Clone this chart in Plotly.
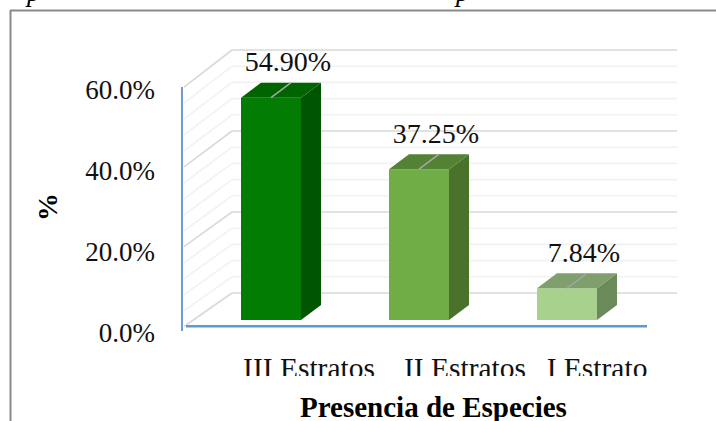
import plotly.graph_objects as go

# === Data ===
categories = ['III Estratos', 'II Estratos', 'I Estrato']
values = [54.90, 37.25, 7.84]
y_ticks = [0, 20, 40, 60]
y_tick_labels = ['0.0%', '20.0%', '40.0%', '60.0%']
grid_values = [0, 4, 8, 12, 16, 20, 24, 28, 32, 36, 40, 44, 48, 52, 56, 60]

front_colors = ['#037c03', '#70ad47', '#a9d18e']
side_colors = ['#005500', '#4a722b', '#6b8a5a']
top_colors = ['#006400', '#548235', '#7f9f6d']

# === Layout settings (pixels) ===
W, H = 716, 421
left, right, top, bottom = 160, 700, 30, 345
bar_spacing = 148
bar_center0 = 271
bar_width = 60
y_scale = 4.05      # px per percent
base_px = 320
label_centers = [309, 465, 597]


def ux(p):
    return (p - bar_center0) / bar_spacing


def uy(p):
    return (base_px - p) / y_scale


def paper_x(p):
    return (p - left) / (right - left)


def paper_y(p):
    return (bottom - p) / (bottom - top)


bar_dx = 20 / bar_spacing
bar_dy = 15 / y_scale
half = bar_width / bar_spacing / 2
positions = list(range(len(values)))

fig = go.Figure()

# Front faces
fig.add_trace(go.Bar(x=positions, y=values, width=bar_width / bar_spacing,
                     marker=dict(color=front_colors, line=dict(width=0)),
                     showlegend=False, hoverinfo='skip'))

# Side and top faces
for i, v in enumerate(values):
    r = i + half
    l = i - half
    fig.add_trace(go.Scatter(
        x=[r, r + bar_dx, r + bar_dx, r, r], y=[0, bar_dy, v + bar_dy, v, 0],
        mode='lines', fill='toself', fillcolor=side_colors[i],
        line=dict(width=0), showlegend=False, hoverinfo='skip'))
    fig.add_trace(go.Scatter(
        x=[l, l + bar_dx, r + bar_dx, r, l], y=[v, v + bar_dy, v + bar_dy, v, v],
        mode='lines', fill='toself', fillcolor=top_colors[i],
        line=dict(width=0), showlegend=False, hoverinfo='skip'))
    # Leader line
    fig.add_trace(go.Scatter(
        x=[i, i + bar_dx], y=[v, v + bar_dy], mode='lines',
        line=dict(color='#a6a6a6', width=1.5), showlegend=False, hoverinfo='skip'))

# Data labels
fig.add_trace(go.Scatter(
    x=[i + 17 / bar_spacing for i in positions],
    y=[v + 33.5 / y_scale for v in values],
    mode='text', text=[f'{v:.2f}%' for v in values],
    textposition='middle center',
    textfont=dict(family='Liberation Serif', size=28, color='#111111'),
    showlegend=False, hoverinfo='skip'))

# Back wall and side wall grid (below the bars)
shapes = []
wall_dy = 27 / y_scale
for g in grid_values:
    major = g % 20 == 0
    col = '#d9d9d9' if major else '#f2f2f2'
    w = 1.6
    back = g + wall_dy
    front_px = 326.5 - g * 3.99
    shapes.append(dict(type='line', xref='x', yref='y', layer='below',
                       x0=ux(232), x1=ux(677), y0=back, y1=back,
                       line=dict(color=col, width=w)))
    shapes.append(dict(type='line', xref='x', yref='y', layer='below',
                       x0=ux(184), x1=ux(232), y0=uy(front_px), y1=back,
                       line=dict(color=col, width=w)))

# Blue axes
shapes.append(dict(type='line', xref='x', yref='y', x0=ux(182), x1=ux(182),
                   y0=uy(331), y1=uy(87), line=dict(color='#6f9bd8', width=2)))
shapes.append(dict(type='line', xref='x', yref='y', x0=ux(186), x1=ux(647),
                   y0=uy(326.3), y1=uy(326.3), line=dict(color='#5b9bd5', width=2.4)))

# Cover that cuts the category labels off
shapes.append(dict(type='rect', xref='paper', yref='paper', layer='above',
                   x0=paper_x(225), x1=paper_x(680), y0=paper_y(376), y1=paper_y(421),
                   fillcolor='white', line=dict(width=0)))

# Chart frame (left and top only, rest is outside the crop)
shapes.append(dict(type='line', xref='paper', yref='paper', x0=paper_x(10), x1=paper_x(716),
                   y0=paper_y(10.5), y1=paper_y(10.5), line=dict(color='#8a8a8a', width=2)))
shapes.append(dict(type='line', xref='paper', yref='paper', x0=paper_x(10.5), x1=paper_x(10.5),
                   y0=paper_y(10), y1=paper_y(421), line=dict(color='#8a8a8a', width=2)))

annotations = [
    dict(text='<b>Presencia de Especies</b>', xref='paper', yref='paper',
         x=paper_x(433), y=paper_y(407), showarrow=False, xanchor='center', yanchor='middle',
         font=dict(family='Liberation Serif', size=29, color='#000000')),
    dict(text='<b>%</b>', xref='paper', yref='paper', textangle=-90,
         x=paper_x(47.5), y=paper_y(207.5), showarrow=False, xanchor='center', yanchor='middle',
         font=dict(family='Liberation Serif', size=28, color='#000000')),
    dict(text='<i>p</i>', xref='paper', yref='paper',
         x=paper_x(33), y=paper_y(-8), showarrow=False, xanchor='center', yanchor='middle',
         font=dict(family='Liberation Serif', size=27, color='#000000')),
    dict(text='<i>p</i>', xref='paper', yref='paper',
         x=paper_x(462), y=paper_y(-8), showarrow=False, xanchor='center', yanchor='middle',
         font=dict(family='Liberation Serif', size=27, color='#000000')),
]

fig.update_layout(
    width=W, height=H, autosize=False,
    margin=dict(l=left, r=W - right, t=top, b=H - bottom, pad=0),
    paper_bgcolor='white', plot_bgcolor='white',
    showlegend=False, shapes=shapes, annotations=annotations,
    xaxis=dict(range=[ux(left), ux(right)], tickmode='array',
               tickvals=[ux(p) for p in label_centers], ticktext=categories,
               showgrid=False, zeroline=False, showline=False, ticks='',
               ticklabelstandoff=2,
               tickfont=dict(family='Liberation Serif', size=29.5, color='#111111')),
    yaxis=dict(range=[uy(bottom), uy(top)], tickmode='array',
               tickvals=y_ticks, ticktext=y_tick_labels,
               showgrid=False, zeroline=False, showline=False, ticks='',
               ticklabelstandoff=4, ticklabelshift=13,
               tickfont=dict(family='Liberation Serif', size=27, color='#111111')),
)

# the default page margin would shift the chart by 8px
fig.write_html("out.html", post_script="document.body.style.margin='0';",
               config=dict(displayModeBar=False))
